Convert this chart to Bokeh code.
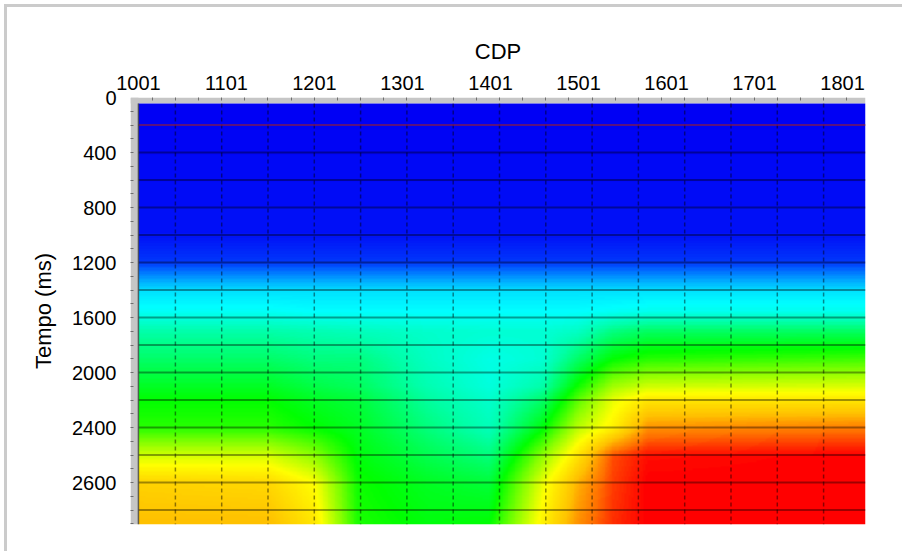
import numpy as np
from bokeh.plotting import figure
from bokeh.models import Range1d, LinearAxis, FixedTicker, LinearColorMapper
from bokeh.embed import file_html
from bokeh.resources import INLINE

# ---- axis labels -------------------------------------------------------
cdp_ticks = [1001, 1101, 1201, 1301, 1401, 1501, 1601, 1701, 1801]
time_ticks = [0, 400, 800, 1200, 1600, 2000, 2400, 2800]
time_labels = ["0", "400", "800", "1200", "1600", "2000", "2400", "2600"]

# ---- velocity model control nodes (m/s) --------------------------------
node_cdp = [1001, 1150, 1200, 1250, 1330, 1400, 1460, 1500, 1540, 1580, 1827]
node_time = [44, 1000, 1200, 1400, 1550, 1700, 1900, 2100, 2200, 2400, 2600, 2800, 3105]
vel = [
    [1500] * 11,
    [1540] * 11,
    [1620] * 11,
    [2020] * 11,
    [2120, 2120, 2100, 2100, 2100, 2100, 2100, 2100, 2120, 2140, 2140],
    [2300, 2300, 2280, 2260, 2220, 2200, 2200, 2240, 2380, 2440, 2440],
    [2420, 2420, 2380, 2380, 2240, 2160, 2200, 2420, 2600, 2660, 2700],
    [2540, 2540, 2480, 2440, 2280, 2180, 2300, 2620, 2860, 2940, 2960],
    [2600, 2600, 2540, 2500, 2320, 2220, 2420, 2740, 2980, 3100, 3100],
    [2660, 2660, 2600, 2540, 2380, 2260, 2580, 2900, 3060, 3300, 3340],
    [2940, 2940, 2820, 2580, 2460, 2380, 2820, 3100, 3400, 3480, 3500],
    [3160, 3140, 3020, 2620, 2540, 2500, 2980, 3240, 3420, 3500, 3500],
    [3220, 3220, 3100, 2640, 2580, 2600, 3060, 3300, 3440, 3500, 3500],
]
vel_low, vel_high = 1500, 3500

# ---- section extents and overlay grid ----------------------------------
sec_cdp = (1001, 1827)
sec_time = (44, 3105)
ruler_cdp_start = 992
grid_cdp = list(1043 + 52.6 * np.arange(15))
grid_time = list(range(200, 3001, 200))
ruler_cdp = list(1016.7 + 26.3 * np.arange(31))
ruler_time = list(range(100, 3101, 100))

# rainbow colour table
anchor_pos = [0.0, 0.10, 0.20, 0.30, 0.40, 0.48, 0.55, 0.65, 0.76, 0.86, 0.93, 1.0]
anchor_col = ["#0000f5", "#0060ff", "#00b4ff", "#00ffff", "#00ffa8", "#00ff50",
              "#00ff00", "#80ff00", "#ffff00", "#ffc000", "#ff7000", "#ff0000"]


def build_palette(pos, cols, n=256):
    rgb = np.array([[int(c[i:i + 2], 16) for i in (1, 3, 5)] for c in cols], float)
    s = np.linspace(0, 1, n)
    chans = [np.interp(s, pos, rgb[:, k]) for k in range(3)]
    return ["#%02x%02x%02x" % tuple(int(round(ch[i])) for ch in chans) for i in range(n)]


palette = build_palette(anchor_pos, anchor_col)

# smooth the node table onto a fine display grid
V = np.array(vel, float)
xs = np.linspace(sec_cdp[0], sec_cdp[1], 420)
ts = np.linspace(sec_time[0], sec_time[1], 320)
rows = np.array([np.interp(xs, node_cdp, r) for r in V])
field = np.array([np.interp(ts, node_time, rows[:, j]) for j in range(len(xs))]).T

FONT = "Liberation Sans"

p = figure(
    width=898, height=547,
    x_range=Range1d(ruler_cdp_start, sec_cdp[1]),
    y_range=Range1d(sec_time[1], 0),
    x_axis_location=None, y_axis_location=None,
    toolbar_location=None, output_backend="svg",
    min_border_left=123, min_border_right=40, min_border_top=90, min_border_bottom=30,
)
p.outline_line_color = None
p.xgrid.visible = False
p.ygrid.visible = False
p.background_fill_color = "white"
p.border_fill_color = "white"
p.styles = {"margin-left": "4px", "margin-top": "4px",
            "border-left": "3px solid #cbcbcb", "border-top": "3px solid #cbcbcb"}

# ruler strips
p.quad(left=ruler_cdp_start, right=sec_cdp[1], top=0, bottom=sec_time[0],
       fill_color="#c6c6c6", line_color=None)
p.quad(left=ruler_cdp_start, right=sec_cdp[0], top=0, bottom=sec_time[1],
       fill_color="#c6c6c6", line_color=None)

mapper = LinearColorMapper(palette=palette, low=vel_low, high=vel_high)
p.image(image=[field], x=sec_cdp[0], y=sec_time[0],
        dw=sec_cdp[1] - sec_cdp[0], dh=sec_time[1] - sec_time[0], color_mapper=mapper)

# overlay grid
n_v = len(grid_cdp)
p.segment(x0=grid_cdp, x1=grid_cdp, y0=[sec_time[0]] * n_v, y1=[sec_time[1]] * n_v,
          line_color="black", line_alpha=0.45, line_width=1.5, line_dash="4 3")
n_h = len(grid_time)
p.segment(x0=[sec_cdp[0]] * n_h, x1=[sec_cdp[1]] * n_h, y0=grid_time, y1=grid_time,
          line_color="black", line_alpha=0.38, line_width=2)
p.segment(x0=[sec_cdp[0]], x1=[sec_cdp[1]], y0=grid_time[:1], y1=grid_time[:1],
          line_color="#ff3050", line_alpha=0.7, line_width=1)
p.segment(x0=[sec_cdp[0]], x1=[sec_cdp[0]], y0=[sec_time[0]], y1=[sec_time[1]],
          line_color="#404040", line_alpha=0.8, line_width=1.5)

# axes
top = LinearAxis(ticker=FixedTicker(ticks=cdp_ticks, minor_ticks=ruler_cdp))
top.axis_label = "CDP"
left = LinearAxis(ticker=FixedTicker(ticks=time_ticks, minor_ticks=ruler_time))
left.axis_label = "Tempo (ms)"
left.major_label_overrides = dict(zip(time_ticks, time_labels))
for ax in (top, left):
    ax.axis_line_color = None
    ax.major_tick_in = 0
    ax.major_tick_out = 0
    ax.minor_tick_in = 3
    ax.minor_tick_out = 0
    ax.minor_tick_line_color = "#6e6e6e"
    ax.major_label_text_font = FONT
    ax.major_label_text_font_size = "20px"
    ax.major_label_text_color = "black"
    ax.axis_label_text_font = FONT
    ax.axis_label_text_font_size = "22px"
    ax.axis_label_text_font_style = "normal"
    ax.axis_label_text_color = "black"
top.major_label_standoff = 8
top.axis_label_standoff = 9
left.major_label_standoff = 14
left.axis_label_standoff = 13
p.add_layout(top, "above")
p.add_layout(left, "left")

open("out.html", "w").write(file_html(p, INLINE))
